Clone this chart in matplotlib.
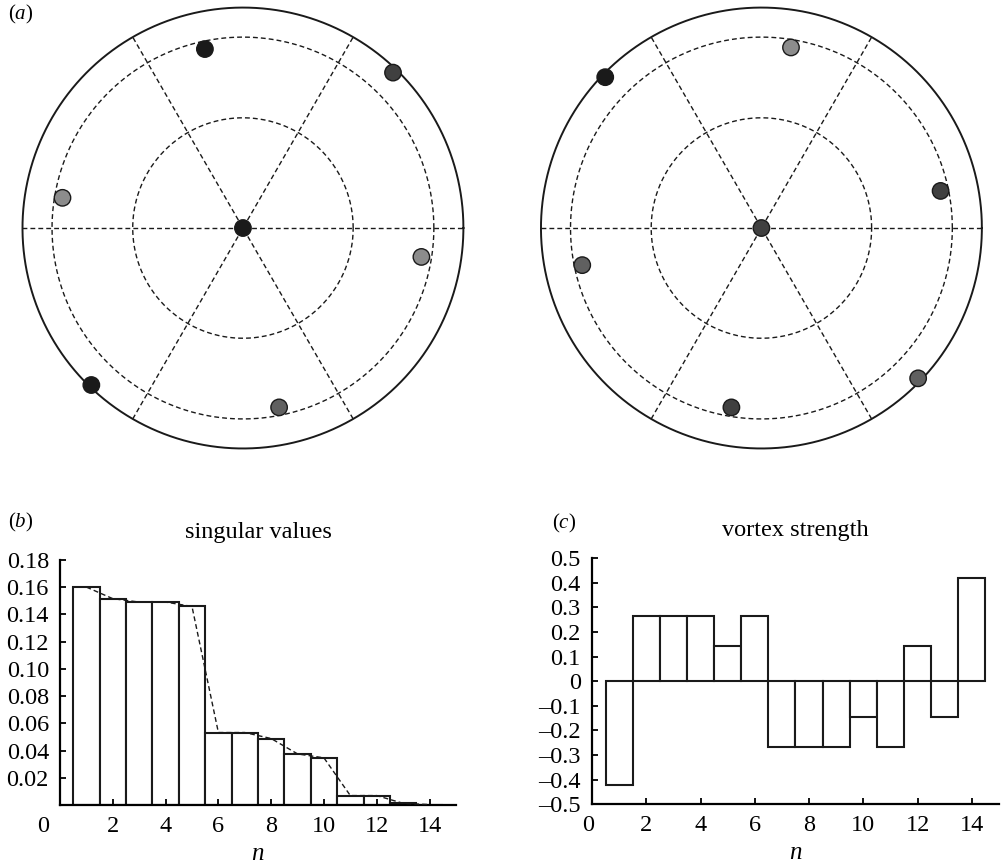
import numpy as np
import matplotlib
matplotlib.use('Agg')
import matplotlib.pyplot as plt
from matplotlib.transforms import ScaledTranslation

plt.rcParams['font.family'] = ['Liberation Serif', 'DejaVu Serif']
plt.rcParams['mathtext.fontset'] = 'custom'
plt.rcParams['mathtext.rm'] = 'Liberation Serif'
plt.rcParams['mathtext.it'] = 'Liberation Serif:italic'

# vortex positions (radius, angle in degrees) and grey shade
left_r = [0.0, 0.83, 0.98, 0.83, 0.82, 0.99, 0.83]
left_ang = [0, 102, 46, 170.5, -9.2, 226, -78.6]
left_col = ['#1a1a1a', '#1a1a1a', '#404040', '#8c8c8c', '#8c8c8c', '#1a1a1a', '#606060']

right_r = [0.0, 0.83, 0.985, 0.83, 0.83, 0.825, 0.985]
right_ang = [0, 80.7, 136, 11.7, 191.7, 260.5, -43.8]
right_col = ['#404040', '#8c8c8c', '#1a1a1a', '#404040', '#606060', '#404040', '#606060']

n = np.arange(1, 15)
singular = [0.160, 0.1515, 0.149, 0.149, 0.1458, 0.0532, 0.0532, 0.0488,
            0.0375, 0.0346, 0.0069, 0.0069, 0.0012, 0.0003]
vortex = [-0.42, 0.267, 0.267, 0.267, 0.145, 0.267, -0.267, -0.267,
          -0.267, -0.147, -0.267, 0.145, -0.147, 0.42]

fig = plt.figure(figsize=(10.02, 8.68), dpi=100)


def disk(ax, r, ang, cols):
    t = np.linspace(0, 2 * np.pi, 400)
    ax.plot(np.cos(t), np.sin(t), color='#1a1a1a', lw=1.4)
    for rr in [0.5, 0.866]:
        ax.plot(rr * np.cos(t), rr * np.sin(t), color='#1a1a1a', lw=1.0,
                dashes=(3.5, 2.2))
    for a in [0, 60, 120]:
        c, s = np.cos(np.radians(a)), np.sin(np.radians(a))
        ax.plot([-c, c], [-s, s], color='#1a1a1a', lw=1.0, dashes=(3.5, 2.2))
    r = np.array(r)
    ang = np.radians(ang)
    ax.scatter(r * np.cos(ang), r * np.sin(ang), s=140, c=cols,
               edgecolors='#1a1a1a', linewidths=1.0, zorder=5, clip_on=False)
    ax.set_xlim(-1.0204, 1.0204)
    ax.set_ylim(-1.0204, 1.0204)
    ax.set_aspect('equal')
    ax.axis('off')


ax1 = fig.add_axes([0.01796, 0.4781, 0.449, 0.5184])
disk(ax1, left_r, left_ang, left_col)
ax2 = fig.add_axes([0.5354, 0.4781, 0.449, 0.5184])
disk(ax2, right_r, right_ang, right_col)
fig.text(0.008, 0.983, r'($a$)', fontsize=15, va='center')


def style(ax):
    for sp in ['top', 'right']:
        ax.spines[sp].set_visible(False)
    for sp in ['left', 'bottom']:
        ax.spines[sp].set_linewidth(1.6)
    ax.tick_params(direction='in', length=4, width=1.3, labelsize=17.5, pad=8)
    ax.set_xlim(0, 15)
    ax.set_xticks(np.arange(0, 15, 2))
    ax.set_xlabel(r'$n$', fontsize=18, labelpad=4)


axb = fig.add_axes([0.0599, 0.0726, 0.3951, 0.2824])
axb.bar(n, singular, width=1, color='white', edgecolor='#1a1a1a', lw=1.5)
axb.plot(n, singular, color='#1a1a1a', lw=1.0, dashes=(3.5, 2.2), zorder=3)
style(axb)
axb.set_ylim(0, 0.18)
axb.set_yticks(np.arange(0.02, 0.19, 0.02))
axb.set_yticklabels(['%.2f' % v for v in np.arange(0.02, 0.19, 0.02)])
axb.set_title('singular values', fontsize=17.5, pad=16)
lab = axb.get_xticklabels()[0]
lab.set_transform(lab.get_transform() + ScaledTranslation(-0.17, 0, fig.dpi_scale_trans))
fig.text(0.008, 0.398, r'($b$)', fontsize=15, va='center')

axc = fig.add_axes([0.5908, 0.0734, 0.4062, 0.2834])
axc.bar(n, vortex, width=1, color='white', edgecolor='#1a1a1a', lw=1.5)
style(axc)
axc.set_ylim(-0.5, 0.5)
yt = np.round(np.arange(-0.5, 0.51, 0.1), 1)
axc.set_yticks(yt)
axc.set_yticklabels(['0' if v == 0 else ('%.1f' % v).replace('-', '\u2013') for v in yt])
axc.set_title('vortex strength', fontsize=17.5, pad=16)
lab = axc.get_xticklabels()[0]
lab.set_transform(lab.get_transform() + ScaledTranslation(-0.04, 0, fig.dpi_scale_trans))
fig.text(0.551, 0.397, r'($c$)', fontsize=15, va='center')

fig.savefig('out.png', dpi=100)
